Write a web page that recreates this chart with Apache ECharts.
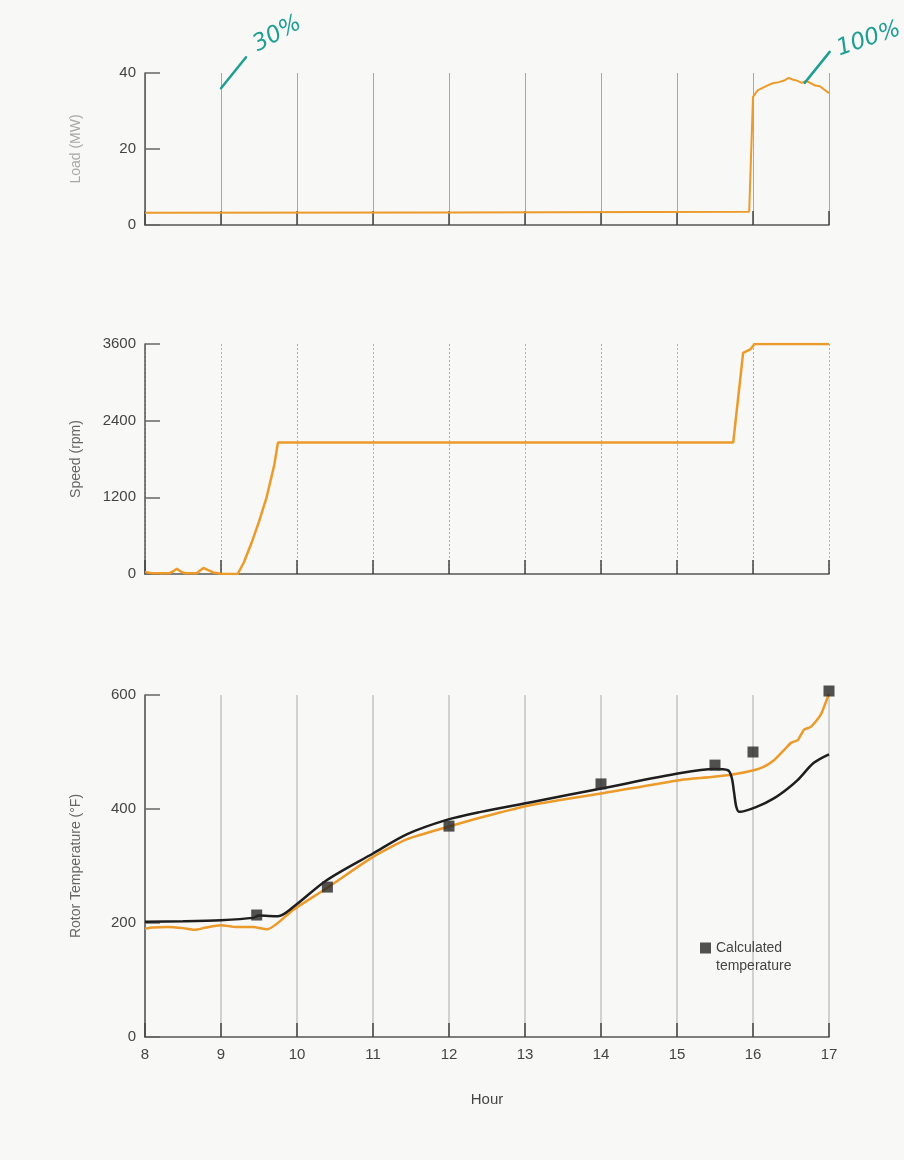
<!DOCTYPE html>
<html>
<head>
<meta charset="utf-8">
<script src="https://cdn.jsdelivr.net/npm/echarts@6/dist/echarts.min.js"></script>
<style>
  html, body { margin: 0; padding: 0; background: #f8f8f6; }
  #chart { width: 904px; height: 1160px; }
</style>
</head>
<body>
<div id="chart"></div>
<script>
// Axis ticks
const hourTicks = [8, 9, 10, 11, 12, 13, 14, 15, 16, 17];
const loadTicks = [0, 20, 40];
const speedTicks = [0, 1200, 2400, 3600];
const tempTicks = [0, 200, 400, 600];

// Generator load (MW)
const loadHours = [8.0, 12.0, 15.95, 16.0, 16.06, 16.12, 16.2, 16.26, 16.34, 16.42, 16.47, 16.52, 16.58, 16.64, 16.7, 16.76, 16.82, 16.88, 16.94, 17.0];
const loadMW    = [3.2, 3.3, 3.5, 33.7, 35.4, 36.0, 36.8, 37.3, 37.6, 38.1, 38.7, 38.3, 38.0, 37.4, 37.9, 37.3, 36.7, 36.5, 35.6, 34.7];

// Shaft speed (rpm)
const speedHours = [8.0, 8.1, 8.32, 8.38, 8.42, 8.47, 8.52, 8.68, 8.73, 8.77, 8.83, 8.9, 9.0, 9.22, 9.3, 9.4, 9.5, 9.6, 9.7, 9.75, 15.74, 15.87, 15.97, 16.02, 17.0];
const speedRpm   = [30, 10, 10, 50, 80, 40, 12, 12, 60, 95, 60, 25, 5, 0, 180, 480, 820, 1200, 1700, 2060, 2060, 3460, 3520, 3600, 3600];

// Rotor temperature (°F), orange trace
const orangeHours = [8.0, 8.1, 8.3, 8.5, 8.65, 8.8, 9.0, 9.2, 9.42, 9.61, 9.95, 10.39, 11.0, 11.45, 11.97, 12.42, 13.08, 14.04, 15.05, 15.45, 15.75, 16.01, 16.14, 16.28, 16.42, 16.5, 16.59, 16.67, 16.76, 16.89, 17.0];
const orangeTemp  = [190, 192, 193, 191, 188, 192, 196, 193, 193, 189, 223, 261, 316, 347, 368, 385, 407, 428, 451, 456, 461, 468, 474, 486, 505, 516, 521, 539, 544, 565, 603];

// Rotor temperature (°F), black trace
const blackHours = [8.0, 8.5, 9.0, 9.42, 9.5, 9.75, 9.95, 10.39, 11.0, 11.45, 11.97, 12.42, 13.08, 14.04, 15.05, 15.49, 15.67, 15.72, 15.75, 15.78, 15.82, 16.07, 16.28, 16.45, 16.59, 16.8, 17.0];
const blackTemp  = [202, 203, 205, 209, 213, 212, 228, 275, 322, 356, 381, 395, 412, 437, 463, 470, 468, 455, 430, 404, 395, 405, 419, 435, 451, 481, 496];

// Calculated temperature (°F)
const calcHours = [9.47, 10.4, 12.0, 14.0, 15.5, 16.0, 17.0];
const calcTemp  = [214, 263, 370, 444, 477, 500, 607];

// Handwritten load notes
const loadNotes = [
  { hour: 9.0, mw: 36.0, text: '30%' },
  { hour: 16.68, mw: 37.4, text: '100%' }
];

const pairs = (xs, ys) => xs.map((x, i) => [x, ys[i]]);

const FONT = 'Liberation Sans';
const ORANGE = '#ec9a2a';
const AXIS = '#555';

function xAxisFor(gridIndex, opts) {
  return Object.assign({
    type: 'value',
    gridIndex,
    min: hourTicks[0],
    max: hourTicks[hourTicks.length - 1],
    interval: hourTicks[1] - hourTicks[0],
    axisLine: { show: true, onZero: false, lineStyle: { color: AXIS, width: 1.5 } },
    axisTick: { show: true, inside: true, length: 14, lineStyle: { color: '#444', width: 1.5 } },
    axisLabel: { show: false },
    splitLine: { show: true, lineStyle: { color: '#a8a8a8', width: 1 } }
  }, opts || {});
}

function yAxisFor(gridIndex, ticks, name, nameColor) {
  return {
    type: 'value',
    gridIndex,
    min: ticks[0],
    max: ticks[ticks.length - 1],
    interval: ticks[1] - ticks[0],
    name,
    nameLocation: 'middle',
    nameGap: 62,
    nameTextStyle: { fontFamily: FONT, fontSize: 14, color: nameColor },
    axisLine: { show: true, lineStyle: { color: AXIS, width: 1.5 } },
    axisTick: { show: true, inside: true, length: 15, lineStyle: { color: '#666', width: 1.5 } },
    axisLabel: { fontFamily: FONT, fontSize: 15, color: '#444', margin: 9, formatter: (v) => String(v) },
    splitLine: { show: false }
  };
}

const chart = echarts.init(document.getElementById('chart'), null, { renderer: 'canvas' });

chart.setOption({
  backgroundColor: '#f8f8f6',
  animation: false,
  grid: [
    { left: 145, right: 75, top: 73, height: 152 },
    { left: 145, right: 75, top: 344, height: 230 },
    { left: 145, right: 75, top: 695, height: 342 }
  ],
  xAxis: [
    xAxisFor(0),
    xAxisFor(1, { splitLine: { show: true, lineStyle: { color: '#b0b0b0', width: 1, type: [2, 2] } } }),
    xAxisFor(2, {
      name: 'Hour',
      nameLocation: 'middle',
      nameGap: 55,
      nameTextStyle: { fontFamily: FONT, fontSize: 15, color: '#444' },
      axisLabel: {
        show: true, fontFamily: FONT, fontSize: 15, margin: 10,
        color: (v) => (v === hourTicks[0] ? '#c4c4c4' : '#444')
      },
      splitLine: { show: true, lineStyle: { color: '#c4c4c4', width: 1.5 } }
    })
  ],
  yAxis: [
    yAxisFor(0, loadTicks, 'Load (MW)', '#a8a8a8'),
    yAxisFor(1, speedTicks, 'Speed (rpm)', '#666'),
    yAxisFor(2, tempTicks, 'Rotor Temperature (°F)', '#666')
  ],
  legend: {
    data: [{ name: 'Calculated temperature', icon: 'rect' }],
    left: 695,
    top: 916,
    itemWidth: 11,
    itemHeight: 11,
    itemGap: 8,
    // a blank first line keeps the marker level with "Calculated"
    formatter: () => ' \nCalculated\ntemperature',
    textStyle: { fontFamily: FONT, fontSize: 14, color: '#444', lineHeight: 18 }
  },
  series: [
    {
      name: 'Load', type: 'line', xAxisIndex: 0, yAxisIndex: 0,
      data: pairs(loadHours, loadMW), showSymbol: false,
      lineStyle: { color: ORANGE, width: 2 }
    },
    {
      name: 'Speed', type: 'line', xAxisIndex: 1, yAxisIndex: 1,
      data: pairs(speedHours, speedRpm), showSymbol: false,
      lineStyle: { color: ORANGE, width: 2.5 }
    },
    {
      name: 'Rotor temperature', type: 'line', xAxisIndex: 2, yAxisIndex: 2,
      data: pairs(orangeHours, orangeTemp), showSymbol: false, smooth: 0.2,
      lineStyle: { color: ORANGE, width: 2.5 }, z: 2
    },
    {
      name: 'Rotor temperature (black)', type: 'line', xAxisIndex: 2, yAxisIndex: 2,
      data: pairs(blackHours, blackTemp), showSymbol: false, smooth: 0.3,
      lineStyle: { color: '#1e1e1e', width: 2.5 }, z: 3
    },
    {
      name: 'Calculated temperature', type: 'scatter', xAxisIndex: 2, yAxisIndex: 2,
      data: pairs(calcHours, calcTemp), symbol: 'rect', symbolSize: 11, clip: false,
      itemStyle: { color: '#262626' }, z: 4
    }
  ]
});

// Handwritten pointers and percentages beside the load trace
const TEAL = '#1f9e93';
const noteTextPlacement = [
  { dx: 34, dy: -42, rotation: 0.5 },
  { dx: 33, dy: -33, rotation: 0.33 }
];
const notes = [];
loadNotes.forEach((n, i) => {
  const p = chart.convertToPixel({ xAxisIndex: 0, yAxisIndex: 0 }, [n.hour, n.mw]);
  const place = noteTextPlacement[i];
  notes.push({
    type: 'line',
    shape: { x1: p[0], y1: p[1], x2: p[0] + 25, y2: p[1] - 31 },
    style: { stroke: TEAL, lineWidth: 2.5, lineCap: 'round' },
    z: 20
  });
  notes.push({
    type: 'text',
    x: p[0] + place.dx,
    y: p[1] + place.dy,
    rotation: place.rotation,
    style: {
      text: n.text, fill: TEAL, fontFamily: 'DejaVu Sans', fontStyle: 'italic',
      fontSize: 23, align: 'left', verticalAlign: 'middle'
    },
    z: 20
  });
});
chart.setOption({ graphic: notes });
</script>
</body>
</html>
